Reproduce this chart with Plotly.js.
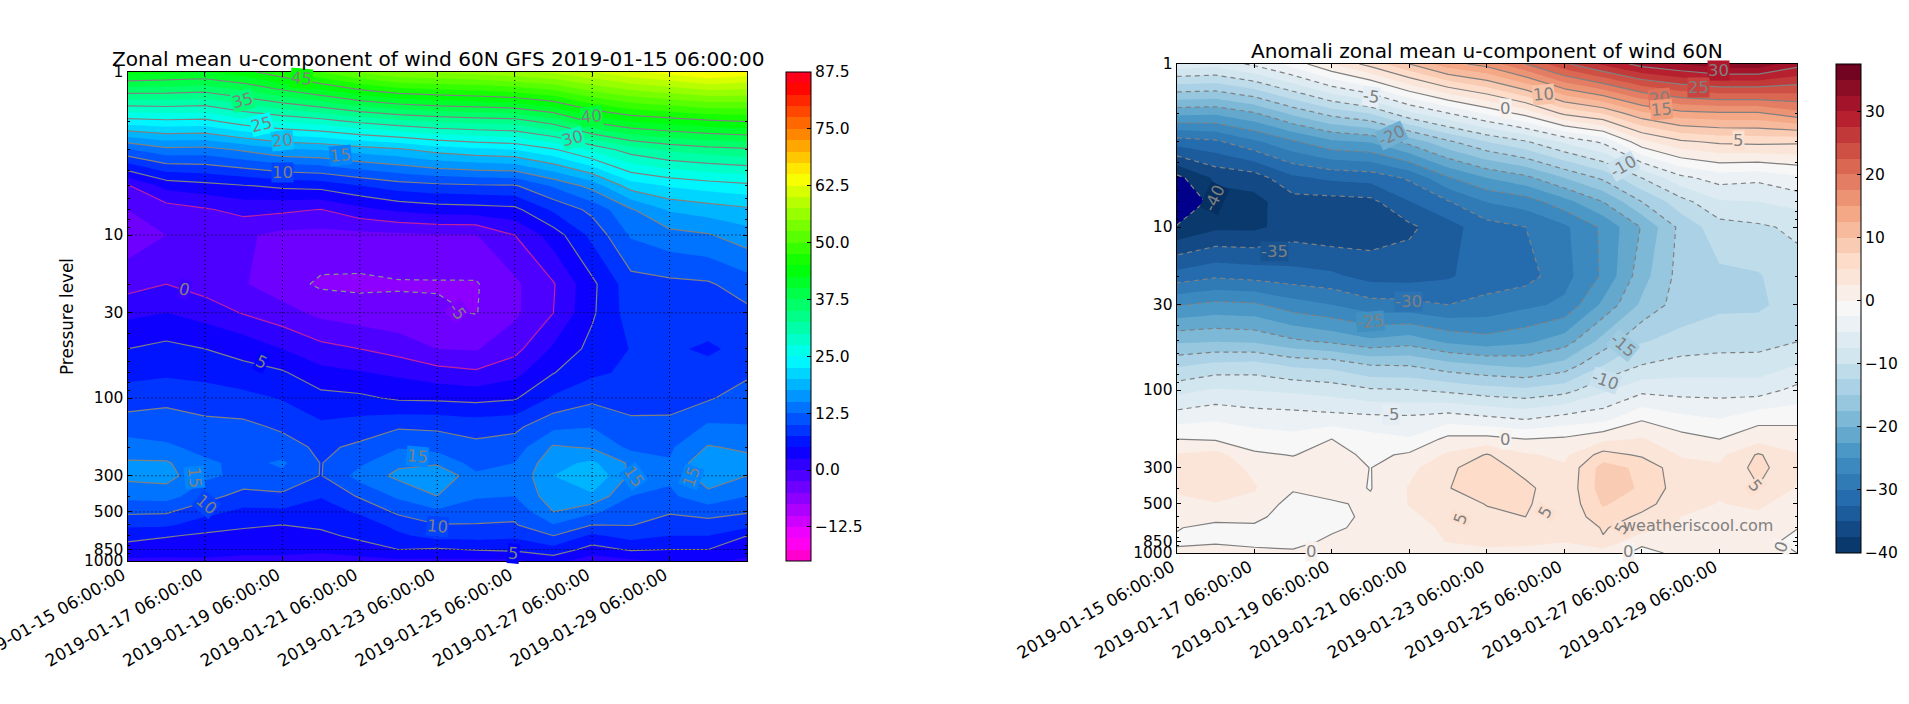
<!DOCTYPE html>
<html><head><meta charset="utf-8">
<script src="https://cdn.plot.ly/plotly-3.0.1.min.js"></script>
<style>html,body{margin:0;padding:0;background:#fff}#c{width:1909px;height:704px}</style>
</head><body><div id="c"></div>
<script>
const times=['2019-01-15 06:00:00','2019-01-16 06:00:00','2019-01-17 06:00:00','2019-01-18 06:00:00','2019-01-19 06:00:00','2019-01-20 06:00:00','2019-01-21 06:00:00','2019-01-22 06:00:00','2019-01-23 06:00:00','2019-01-24 06:00:00','2019-01-25 06:00:00','2019-01-26 06:00:00','2019-01-27 06:00:00','2019-01-28 06:00:00','2019-01-29 06:00:00','2019-01-30 06:00:00','2019-01-31 06:00:00'];
const levels=[1,2,3,5,7,10,20,30,50,70,100,150,200,250,300,400,500,600,700,850,1000];
const xTicks=['2019-01-15 06:00:00','2019-01-17 06:00:00','2019-01-19 06:00:00','2019-01-21 06:00:00','2019-01-23 06:00:00','2019-01-25 06:00:00','2019-01-27 06:00:00','2019-01-29 06:00:00'];
const yTicks=[1,10,30,100,300,500,850,1000];
const yMinor=[2,3,4,5,6,7,8,9,20,40,50,60,70,80,90,200,400,600,700,800,900];
const barTicksLeft=[-12.5,0,12.5,25,37.5,50,62.5,75,87.5];
const barTextLeft=['\u221212.5','0.0','12.5','25.0','37.5','50.0','62.5','75.0','87.5'];
const barTicksRight=[-40,-30,-20,-10,0,10,20,30];
const barTextRight=['\u221240','\u221230','\u221220','\u221210','0','10','20','30'];

const u1=[43.5,43,42.5,44,47,50,53,55,55.5,56,57,58,60,62,63.5,65,64];
const u2=[24,24.5,24.3,26.6,27.9,29,30.7,32,33,33.5,33.9,36.3,40.6,42.8,43.7,44.6,45.2];
const u3=[12.2,14.2,14,15.4,17.1,17.6,18.7,19.5,21,21.9,22.5,24.6,28,31.3,33,33.9,34.5];
const u5=[-0.3,3.3,4.1,4.8,5.5,5.9,7.4,8.7,9.3,9.6,9.7,12.8,15.9,21.2,22.7,23.6,24.3];
const u7=[-2.5,-1.3,-0.3,0.8,0.5,-0.1,1.7,3,3.7,3.9,4.3,7.9,10.7,14.7,17.8,18.7,19.5];
const u10=[-4,-2.5,-2,-2.1,-3.2,-3.3,-3.2,-3,-2.7,-2.6,0,3.7,8.2,12.8,14.1,14.8,16.4];
const u20=[-1,0,-1.2,-2.3,-4,-5.4,-5.5,-5.2,-5.2,-5.2,-3,-0.2,4.4,9,9.4,9.7,11.3];
const u30=[1.9,2.5,1.5,-0.2,-1.5,-3.2,-3.9,-4.4,-4.6,-5.1,-3,0,4.6,8.7,8.4,8.6,9.4];
const u50=[5,5.7,5,4.2,2.5,0.8,0,-1,-2.5,-2.7,-0.8,2.9,5.8,7.6,7.8,7.2,8.1];
const u70=[6.8,7,6.7,5.8,5.3,3.3,2.7,2,1,0.4,1.7,4.9,7,8,8,8.2,9.5];
const u100=[8.7,9.5,8.8,8.3,7.3,5.8,5.5,4.6,4.5,4.2,4.7,7.9,9.4,8.9,9.4,9.7,11.3];
const u150=[11.4,11,10.7,10.6,9.6,8,8.7,9.7,9.6,9.1,9.4,11.9,12.4,10.7,10.4,12.9,12.6];
const u200=[13.6,13,11.6,11.3,11,9.5,10.5,12.3,11.5,10.6,11.2,15.3,14.7,11.9,12.1,15.2,14.5];
const u250=[15.3,15.3,13,11.8,12.9,9.9,12,14.5,14.5,11.5,12.5,16.7,18,14.5,12.7,17.4,15.9];
const u300=[15.7,16,13,11.9,12,9.9,13.5,15.6,17.6,13,13,17.5,20,14.5,13,16.5,15];
const u400=[13.2,13.5,11,9,9.5,7.7,10.3,13,15,12.8,12.5,16.5,17,12.5,12,14.2,12.5];
const u500=[10.5,10.3,8.3,6.9,7,6.2,7.9,10.5,12,11,10.6,15,13,11,10.2,11,10.2];
const u600=[8,8,6.1,5.3,5,5.4,6,8.4,9.9,9.9,9.8,12.4,10,10.1,9,9,8.5];
const u700=[5.8,5.2,4.6,4.4,4.2,4.5,5.5,7,8.5,8.5,8,10,7,8.5,7.5,7.5,5];
const u850=[4,3.5,3.7,3,3,3,4,5,4.7,5.2,5.5,6.6,4,5.3,5,5,3.5];
const u1000=[2,2,2,2,2,1.5,1.5,2,2,2,2,3.5,1,2,3,3,2];

const a1=[-6,-6.5,-4.5,-1.5,2.5,6,10,14,16,20,24.5,28,31,32.5,34,34,31];
const a2=[-21.8,-22,-20.2,-16.8,-14,-12.3,-8,-5,-2,1,5.7,7.8,12,14.3,14.7,14.7,16.7];
const a3=[-31.3,-30.5,-28,-25.4,-23,-22.3,-19.2,-15.5,-12.5,-10.3,-7.1,-4.5,1.8,4.5,5.5,5.7,5.5];
const a5=[-40.8,-37,-36.3,-33,-32,-31.6,-29.6,-25.3,-22.5,-20.7,-17.5,-14.5,-10,-5.7,-3.9,-4.4,-3];
const a7=[-44,-38.5,-38.3,-36,-36,-35.7,-32.6,-30.2,-27.4,-26.3,-23.4,-20,-15,-11,-7.8,-7.5,-6.6];
const a10=[-39.7,-38,-38,-36.5,-37,-36.5,-35.5,-33.5,-31,-30,-28,-24.5,-19.8,-14.3,-11,-10.4,-9.5];
const a20=[-31.5,-30.4,-30.9,-31.5,-32,-33.4,-33.5,-32.8,-31.2,-31,-28.4,-24.6,-18.5,-14,-13,-12.7,-11];
const a30=[-25.2,-24.3,-24.6,-26.4,-27.5,-29,-29.2,-30,-29.3,-28.1,-27,-21.9,-17,-13.7,-13,-12.9,-11.5];
const a50=[-18,-17.7,-18,-19.6,-20.6,-22,-21.2,-23.1,-24,-23.1,-21.3,-16.6,-12.7,-11.8,-11,-11,-10.1];
const a70=[-13,-11.9,-11.6,-13,-13.4,-15.1,-15.2,-16.7,-17.6,-18.2,-16.6,-12.6,-10,-9,-9,-8.9,-7.5];
const a100=[-8.4,-7.2,-7.6,-8,-8.6,-9.7,-9.9,-10.6,-11.5,-12,-11,-8,-5.7,-6,-6,-6.2,-4.3];
const a150=[-3.5,-2.8,-3.5,-3.7,-4,-4.2,-4.4,-3.6,-4.4,-5.2,-4,-3.3,-0.3,-1.8,-2.5,-0.8,-0.7];
const a200=[0,-0.3,-1.3,-1.8,0,-1.6,-2.3,0.7,0.8,0,0.4,1.9,2.7,1,0,1.6,1.4];
const a250=[2.7,3.5,0.4,-0.1,1,-0.6,0.4,2.9,5.2,2.8,2,6,4.6,2.3,1.9,5.3,2.7];
const a300=[3.5,3.8,2,0.9,1.3,-0.05,1.8,4.5,6.4,4,2.8,8.6,6.9,3.3,2.9,5.8,3];
const a400=[3,3.5,2.7,0.3,0.9,-0.1,2.7,4.9,6.3,5.7,3,8.8,7.2,3.6,2.9,4.9,2.3];
const a500=[1.7,2.4,1.8,-1,-0.3,0.4,2.6,3.8,5.1,5.4,3,7.8,6,3.3,2.4,3,1.2];
const a600=[0.7,1,0.6,-1.2,-1,0.7,2.1,3.3,4.5,5,3.1,6.5,4.4,2.5,1.7,2,0.5];
const a700=[0.2,-1,-0.4,-1.5,-0.5,0.8,1.7,2.9,3.5,3.8,2.9,5.2,3.8,2.2,1.2,1.3,0.05];
const a850=[-0.5,-0.3,-1,-1,0.6,1,1.5,2.6,3,3,2.6,4.8,0.4,1,0.5,0.5,-0.4];
const a1000=[0.6,1,1,0.5,1,1,1,1.4,2,1.8,1,1,-0.5,0.4,0.2,0.2,0];

const labelTextLeft=['45','35','25','20','15','10','40','30','0','-5','5','15','10','15','10','5','15','15'];
const labelDayLeft=[4.5,2.98,3.47,4,5.51,4,11.99,11.49,1.47,8.52,3.47,1.73,2.04,7.5,8,9.98,13.07,14.57];
const labelLogLeft=[0.039,0.172,0.321,0.423,0.513,0.615,0.274,0.407,1.337,1.471,1.781,2.487,2.652,2.36,2.79,2.953,2.483,2.483];
const labelAngleLeft=[5,-15,-15,-6,-6,0,-6,-15,15,55,25,85,40,5,5,5,55,-70];

const labelTextRight=['-5','-20','-40','0','10','30','25','20','15','5','-10','-35','-30','-25','-15','-10','-5','0','5','5','5','5','0','0','0'];
const labelDayRight=[5,5.54,0.97,8.47,9.45,13.97,13.45,12.46,12.51,14.48,11.52,2.52,5.99,5,11.52,11.05,5.52,8.47,7.32,9.52,11.47,14.94,3.48,11.65,15.6];
const labelLogRight=[0.201,0.436,0.824,0.272,0.186,0.041,0.143,0.21,0.278,0.472,0.63,1.152,1.454,1.581,1.724,1.939,2.149,2.302,2.787,2.747,2.848,2.589,2.988,2.988,2.961];
const labelAngleRight=[8,-25,-65,0,-5,0,0,-5,-5,0,-30,0,0,-5,40,20,0,0,-70,-60,-60,50,0,0,-70];

const rainbowStops=[[0,[255,0,191]],[0.046,[255,0,255]],[0.23,[0,0,255]],[0.414,[0,255,255]],[0.6,[0,255,0]],[0.785,[255,255,0]],[0.97,[255,0,0]],[1,[255,0,41]]];
const rdbuHex=['#053061','#2166ac','#4393c3','#92c5de','#d1e5f0','#f7f7f7','#fddbc7','#f4a582','#d6604d','#b2182b','#67001f'];
const rgbStr=c=>`rgb(${c.map(Math.round).join(',')})`;
const hexRgb=h=>[1,3,5].map(i=>parseInt(h.substr(i,2),16));
const rdbuStops=rdbuHex.map((h,i)=>[i/10,hexRgb(h)]);
const cmap=(stops,f)=>{for(let i=1;i<stops.length;i++){if(f<=stops[i][0]){const t=(f-stops[i-1][0])/(stops[i][0]-stops[i-1][0]);return rgbStr(stops[i-1][1].map((v,k)=>v+t*(stops[i][1][k]-v)));}}return rgbStr(stops[stops.length-1][1]);};
const toScale=s=>s.map(p=>[p[0],rgbStr(p[1])]);

const zLeft=[u1,u2,u3,u5,u7,u10,u20,u30,u50,u70,u100,u150,u200,u250,u300,u400,u500,u600,u700,u850,u1000];
const zRight=[a1,a2,a3,a5,a7,a10,a20,a30,a50,a70,a100,a150,a200,a250,a300,a400,a500,a600,a700,a850,a1000];

const W=1909,H=704,GRAY='#808080',FONT='DejaVu Sans',TICK=15.5,XTICK=16.8,LBL=16.5;
const dom=(a,b,s)=>[a/s,b/s];
const lineTrace=(z,xa,ya,start,end,color,dash,width)=>({type:'contour',x:times,y:levels,z,xaxis:xa,yaxis:ya,autocontour:false,showscale:false,hoverinfo:'skip',
  contours:{coloring:'none',start,end,size:5,showlines:true},line:{color,dash,width:width||1.2,smoothing:0}});
const fillTrace=(z,xa,ya,zmin,zmax,scale,barX,barTop,vals,text)=>({type:'contour',x:times,y:levels,z,xaxis:xa,yaxis:ya,autocontour:false,zmin,zmax,zauto:false,hoverinfo:'skip',
  colorscale:scale,contours:{coloring:'fill',start:zmin,end:zmax,size:2.5,showlines:false},line:{width:0,smoothing:0},
  colorbar:{x:barX/W,xanchor:'left',xpad:0,ypad:0,y:1-barTop/H,yanchor:'top',lenmode:'pixels',len:489,thicknessmode:'pixels',thickness:24.6,
    outlinecolor:'#000',outlinewidth:1,ticks:'inside',ticklen:4,tickcolor:'#000',tickvals:vals,ticktext:text,tickfont:{family:FONT,size:TICK,color:'#000'}}});

const gridX=[],gridY=[];
xTicks.slice(1).forEach(t=>{gridX.push(t,t,null);gridY.push(1,1000,null);});
yTicks.slice(1,-1).forEach(v=>{gridX.push(times[0],times[16],null);gridY.push(v,v,null);});

const traces=[
 fillTrace(zLeft,'x','y',-20,87.5,toScale(rainbowStops),786,72,barTicksLeft,barTextLeft),
 lineTrace(zLeft,'x','y',5,45,GRAY,'solid'),
 lineTrace(zLeft,'x','y',0,0,'#c0239c','solid'),
 lineTrace(zLeft,'x','y',-5,-5,'#859a80','5px,4px'),
 {type:'scatter',mode:'lines',x:gridX,y:gridY,xaxis:'x',yaxis:'y',line:{color:'#000',width:1,dash:'1px,3px'},hoverinfo:'skip',showlegend:false},
 fillTrace(zRight,'x2','y2',-40,37.5,toScale(rdbuStops),1835.6,64,barTicksRight,barTextRight),
 {type:'contour',x:times,y:levels,z:zRight.map(r=>r.map(v=>-v)),xaxis:'x2',yaxis:'y2',showscale:false,hoverinfo:'skip',autocontour:false,zmin:37.5,zmax:42.5,zauto:false,
   colorscale:[[0,'rgba(0,0,0,0)'],[0.5,'rgba(0,0,0,0)'],[0.5,'#00008b'],[1,'#00008b']],
   contours:{coloring:'fill',start:40,end:40,size:2.5,showlines:false},line:{width:0,smoothing:0}},
 lineTrace(zRight,'x2','y2',0,30,GRAY,'solid'),
 lineTrace(zRight,'x2','y2',-40,-5,GRAY,'5px,4px')
];

const axisX=(d,anchor)=>({domain:d,anchor,type:'date',range:[times[0],times[16]],tickmode:'array',tickvals:xTicks,ticktext:xTicks,tickangle:-30,ticklabeloverflow:'allow',ticklabelshift:-5,ticklabelstandoff:-3,
  ticks:'inside',ticklen:4,tickcolor:'#000',showline:true,linecolor:'#000',linewidth:1,mirror:'allticks',showgrid:false,zeroline:false,tickfont:{family:FONT,size:XTICK,color:'#000'}});
const axisY=(d,anchor,title)=>({domain:d,anchor,type:'log',range:[3,0],tickmode:'array',tickvals:yTicks,ticktext:yTicks.map(String),
  ticks:'inside',ticklen:4,tickcolor:'#000',showline:true,linecolor:'#000',linewidth:1,mirror:'allticks',showgrid:false,zeroline:false,tickfont:{family:FONT,size:TICK,color:'#000'},
  minor:{ticks:'inside',ticklen:2,tickcolor:'#000',tickvals:yMinor,showgrid:false},title:title?{text:title,font:{family:FONT,size:16.8,color:'#000'},standoff:6}:undefined});

const dayMs=d=>Date.UTC(2019,0,15,6)+d*864e5;
const labelAnn=(txt,day,log,ang,xr,yr,stops,zmin,zmax,fs)=>txt.map((t,i)=>{
  const L=parseFloat(t);
  const mid=Math.min(zmax,Math.max(zmin,L));
  return {xref:xr,yref:yr,x:dayMs(day[i]),y:log[i],text:t,showarrow:false,textangle:ang[i],font:{family:FONT,size:fs,color:GRAY},bgcolor:cmap(stops,(mid-zmin)/(zmax-zmin)),borderpad:0};
});
const annotations=[
 ...labelAnn(labelTextLeft,labelDayLeft,labelLogLeft,labelAngleLeft,'x','y',rainbowStops,-20,87.5,LBL),
 ...labelAnn(labelTextRight,labelDayRight,labelLogRight,labelAngleRight,'x2','y2',rdbuStops,-40,37.5,LBL),
 {xref:'x2',yref:'y2',x:dayMs(13.45),y:2.83,text:'weatheriscool.com',showarrow:false,font:{family:FONT,size:16,color:GRAY}},
 {xref:'paper',yref:'paper',x:437.5/W,y:1-59/H,xanchor:'center',yanchor:'middle',text:'Zonal mean u-component of wind 60N GFS 2019-01-15 06:00:00',showarrow:false,font:{family:FONT,size:20.1,color:'#000'}},
 {xref:'paper',yref:'paper',x:1487/W,y:1-51/H,xanchor:'center',yanchor:'middle',text:'Anomali zonal mean u-component of wind 60N',showarrow:false,font:{family:FONT,size:20.1,color:'#000'}}
];

const layout={width:W,height:H,margin:{l:0,r:0,t:0,b:0},paper_bgcolor:'#fff',plot_bgcolor:'#fff',showlegend:false,font:{family:FONT},
 xaxis:axisX(dom(127.5,747,W),'y'),yaxis:axisY(dom(H-561,H-72,H),'x','Pressure level'),
 xaxis2:axisX(dom(1176.7,1797,W),'y2'),yaxis2:axisY(dom(H-553,H-64,H),'x2'),annotations};
Plotly.newPlot('c',traces,layout,{displayModeBar:false,staticPlot:true});
</script></body></html>
